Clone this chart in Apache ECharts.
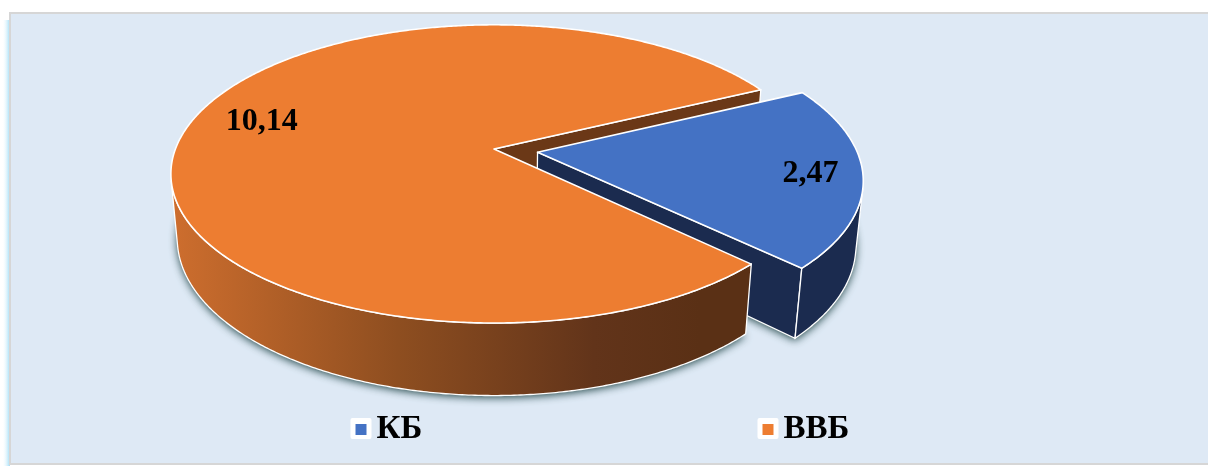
<!DOCTYPE html>
<html>
<head>
<meta charset="utf-8">
<script src="https://cdn.jsdelivr.net/npm/echarts@6/dist/echarts.min.js"></script>
<style>
  html, body { margin: 0; padding: 0; background: #ffffff; }
  #chart { width: 1208px; height: 466px; }
</style>
</head>
<body>
<div id="chart"></div>
<script>
// ---- data ----
const categories = ['КБ', 'ВВБ'];
const values = [2.47, 10.14];

// ---- look ----
const topColors = ['#4472C4', '#ED7D31'];
const sideColors = ['#1B2B4F', '#6B3817'];
const explode = [0.138, 0];              // radial pull-out of each slice (pie radius = 1)
const LABEL_R = 0.83;                    // label distance from slice centre
const LABEL_SHIFT = [[4, 2], [23, -8]];  // pixel nudges for the value labels
const FIRST_SLICE_ANGLE = 64;            // degrees, clockwise from 12 o'clock
const LEGEND_LEFT = [355.5, 762.5];      // x of each legend swatch

// ---- perspective camera for the tilted disc ----
const CX = 494, CY = 149;                // screen position of the pie centre
const CAM = { f: 1698, D: 5.33, s: 0.455, c: 0.8905 }; // focal, distance, sin/cos of tilt
const THICK = 0.23;                      // disc thickness

const total = values.reduce((a, b) => a + b, 0);
const rad = d => d * Math.PI / 180;

// world: X right, Y up, Z toward the viewer
function depthOf(p) { return CAM.D - p[1] * CAM.s - p[2] * CAM.c; }
function proj(p) {
  const d = depthOf(p);
  return [CX + CAM.f * p[0] / d, CY + CAM.f * (p[2] * CAM.s - p[1] * CAM.c) / d];
}
const camPos = [0, CAM.D * CAM.s, CAM.D * CAM.c];

function sliceGeom(i) {
  let before = 0;
  for (let k = 0; k < i; k++) before += values[k];
  const a = 90 - FIRST_SLICE_ANGLE - before / total * 360;
  const b = a - values[i] / total * 360;
  const mid = (a + b) / 2;
  return { a, b, mid, ox: explode[i] * Math.cos(rad(mid)), oz: -explode[i] * Math.sin(rad(mid)) };
}
function rim(g, phi, Y, r) {
  r = r == null ? 1 : r;
  return [g.ox + r * Math.cos(rad(phi)), Y, g.oz - r * Math.sin(rad(phi))];
}
function arc(g, from, to, Y) {
  const n = Math.max(2, Math.ceil(Math.abs(from - to) * 2));
  const pts = [];
  for (let k = 0; k <= n; k++) pts.push(rim(g, from + (to - from) * k / n, Y));
  return pts;
}
function outerVisible(g, phi) {
  return (g.oz - camPos[2]) * Math.sin(rad(phi)) - g.ox * Math.cos(rad(phi)) > 1;
}
function faceVisible(n, p) {
  return n[0] * (camPos[0] - p[0]) + n[1] * (camPos[1] - p[1]) + n[2] * (camPos[2] - p[2]) > 0;
}
function centroidDepth(pts) {
  let s = 0;
  pts.forEach(p => { s += depthOf(p); });
  return s / pts.length;
}
function poly(pts3, style, z2) {
  return { type: 'polygon', z2: z2, shape: { points: pts3.map(proj) }, style: style };
}

const wallGradient = new echarts.graphic.LinearGradient(170, 0, 700, 0, [
  { offset: 0, color: '#CE6E2E' },
  { offset: 0.43, color: '#8E4E20' },
  { offset: 0.8, color: '#62341A' },
  { offset: 1, color: '#5A3015' }
], true);
const outerFills = ['#1B2B4F', wallGradient];

function renderSlice(i, value) {
  const g = sliceGeom(i);
  const children = [];
  const center = [g.ox, 0, g.oz], centerB = [g.ox, -THICK, g.oz];

  // soft shadow under the disc
  children.push(poly([centerB].concat(arc(g, g.a, g.b, -THICK)), {
    fill: '#10302F', shadowBlur: 8, shadowColor: 'rgba(0,40,40,0.85)', shadowOffsetY: 2
  }, 10));

  // outer curved wall, only the runs that face the camera
  const step = 0.25;
  let run = null;
  const runs = [];
  for (let p = g.a; p >= g.b - 1e-9; p -= step) {
    const pp = Math.max(p, g.b);
    if (outerVisible(g, pp)) { if (!run) run = [pp, pp]; run[1] = pp; }
    else if (run) { runs.push(run); run = null; }
  }
  if (run) runs.push(run);
  runs.forEach(r => {
    const top = arc(g, r[0], r[1], 0);
    const bot = arc(g, r[1], r[0], -THICK);
    const pts = top.concat(bot);
    children.push(poly(pts, { fill: outerFills[i], stroke: '#ffffff', lineWidth: 1.3 },
      Math.round(1000 - centroidDepth(pts) * 100)));
  });

  // radial cut faces
  const faces = [
    { phi: g.a, n: [-Math.sin(rad(g.a)), 0, -Math.cos(rad(g.a))] },
    { phi: g.b, n: [Math.sin(rad(g.b)), 0, Math.cos(rad(g.b))] }
  ];
  faces.forEach(f => {
    const pts = [center, rim(g, f.phi, 0), rim(g, f.phi, -THICK), centerB];
    const mid = rim(g, f.phi, -THICK / 2, 0.5);
    if (!faceVisible(f.n, mid)) return;
    children.push(poly(pts, { fill: sideColors[i], stroke: '#ffffff', lineWidth: 1.3 },
      Math.round(1000 - centroidDepth(pts) * 100)));
  });

  // top face
  children.push(poly([center].concat(arc(g, g.a, g.b, 0)), {
    fill: topColors[i], stroke: '#ffffff', lineWidth: 1.6, lineJoin: 'round'
  }, 2000));

  // value label
  const lp = proj(rim(g, g.mid, 0, LABEL_R));
  children.push({
    type: 'text', z2: 3000,
    x: lp[0] + LABEL_SHIFT[i][0], y: lp[1] + LABEL_SHIFT[i][1],
    style: {
      text: String(value).replace('.', ','),
      font: "bold 32px 'Liberation Serif'",
      fill: '#000000', align: 'center', verticalAlign: 'middle'
    }
  });
  return { type: 'group', children: children };
}

const series = categories.map((name, i) => ({
  type: 'custom',
  name: name,
  coordinateSystem: 'none',
  silent: true,
  itemStyle: { color: topColors[i] },
  data: [values[i]],
  renderItem: (params, api) => renderSlice(i, api.value(0))
}));

const legendCommon = {
  top: 413, padding: 0, itemGap: 0, z: 10,
  icon: 'rect', itemWidth: 11, itemHeight: 11,
  itemStyle: { borderWidth: 0 },
  textStyle: {
    fontFamily: 'Liberation Serif', fontWeight: 'bold', fontSize: 33, lineHeight: 33,
    color: '#000000', padding: [0, 0, 0, 5]
  },
  selectedMode: false
};

const chart = echarts.init(document.getElementById('chart'), null, { renderer: 'canvas' });
chart.setOption({
  animation: false,
  backgroundColor: '#ffffff',
  graphic: {
    elements: [
      { type: 'rect', z: -2, shape: { x: 2, y: 20, width: 8, height: 446 },
        style: { fill: new echarts.graphic.LinearGradient(0, 0, 1, 0, [
          { offset: 0, color: 'rgba(255,255,255,0)' }, { offset: 1, color: '#9EDCF6' }]) } },
      { type: 'rect', z: -1, shape: { x: 10, y: 13, width: 1300, height: 451 },
        style: { fill: '#DEE9F5', stroke: '#D6D6D6', lineWidth: 2 } },
      // white tiles behind the legend swatches
      { type: 'rect', z: 5, shape: { x: LEGEND_LEFT[0] - 5, y: 418, width: 21, height: 21, r: 2 },
        style: { fill: '#ffffff' } },
      { type: 'rect', z: 5, shape: { x: LEGEND_LEFT[1] - 5, y: 418, width: 21, height: 21, r: 2 },
        style: { fill: '#ffffff' } }
    ]
  },
  legend: [
    Object.assign({ data: [categories[0]], left: LEGEND_LEFT[0] }, legendCommon),
    Object.assign({ data: [categories[1]], left: LEGEND_LEFT[1] }, legendCommon)
  ],
  series: series
});
</script>
</body>
</html>
